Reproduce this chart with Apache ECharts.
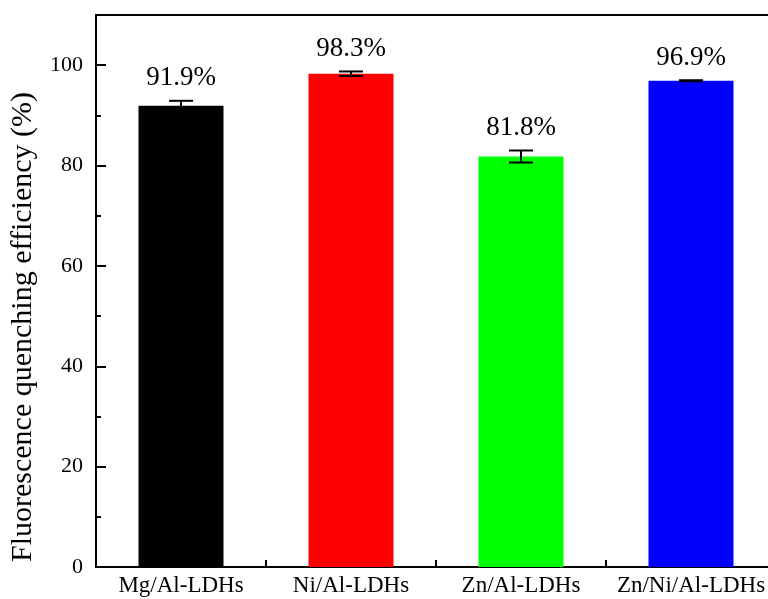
<!DOCTYPE html>
<html>
<head>
<meta charset="utf-8">
<script src="https://cdn.jsdelivr.net/npm/echarts@6/dist/echarts.min.js"></script>
<style>
html,body{margin:0;padding:0;background:#fff;}
#chart{width:768px;height:599px;}
</style>
</head>
<body>
<div id="chart"></div>
<script>
const categories = ['Mg/Al-LDHs', 'Ni/Al-LDHs', 'Zn/Al-LDHs', 'Zn/Ni/Al-LDHs'];
const efficiency = [91.9, 98.3, 81.8, 96.9];
const errors = [1.0, 0.45, 1.2, 0.1];
const barColors = ['#000000', '#ff0000', '#00ff00', '#0000ff'];
const valueLabels = ['91.9%', '98.3%', '81.8%', '96.9%'];
const yTitle = 'Fluorescence quenching efficiency (%)';

const FONT = "'Liberation Serif', 'Times New Roman', serif";
const chart = echarts.init(document.getElementById('chart'), null, {renderer: 'canvas'});

const option = {
  backgroundColor: '#ffffff',
  animation: false,
  grid: {
    left: 96, top: 15, width: 680, height: 552,
    containLabel: false, outerBoundsMode: 'none',
    show: true, borderColor: '#000', borderWidth: 2, backgroundColor: 'transparent'
  },
  xAxis: [
    {
      type: 'category', data: categories, position: 'bottom',
      axisLine: {show: true, lineStyle: {color: '#000', width: 2}},
      axisTick: {show: true, inside: true, alignWithLabel: true, length: 12, lineStyle: {color: '#000', width: 2}},
      axisLabel: {color: '#000', fontFamily: FONT, fontSize: 23, margin: 7, interval: 0},
      splitLine: {show: false}
    },
    {
      type: 'category', data: categories, position: 'bottom',
      axisLine: {show: false},
      axisTick: {show: true, inside: true, alignWithLabel: false, interval: 0, length: 7, lineStyle: {color: '#000', width: 2}},
      axisLabel: {show: false},
      splitLine: {show: false}
    }
  ],
  yAxis: [
    {
      type: 'value', min: 0, max: 110, interval: 20, position: 'left',
      axisLine: {show: true, lineStyle: {color: '#000', width: 2}},
      axisTick: {show: true, inside: true, length: 10, lineStyle: {color: '#000', width: 2}},
      axisLabel: {color: '#000', fontFamily: FONT, fontSize: 22, margin: 13,
        formatter: function (v) { return v > 100 ? '' : String(v); }},
      splitLine: {show: false}
    },
    {
      type: 'value', min: 0, max: 110, interval: 10, position: 'left',
      axisLine: {show: false},
      axisTick: {show: true, inside: true, length: 5, lineStyle: {color: '#000', width: 2}},
      axisLabel: {show: false},
      splitLine: {show: false}
    }
  ],
  graphic: [{
    type: 'text', x: 23, y: 327, rotation: Math.PI / 2,
    style: {text: yTitle, font: "30px " + FONT, fill: '#000', textAlign: 'center', textVerticalAlign: 'middle'}
  }],
  series: [
    {
      type: 'bar', xAxisIndex: 0, yAxisIndex: 0, barWidth: '50%',
      data: efficiency.map(function (v, i) { return {value: v, itemStyle: {color: barColors[i]}}; })
    },
    {
      type: 'custom', xAxisIndex: 0, yAxisIndex: 0, z: 10,
      data: efficiency.map(function (v, i) { return [i, v, errors[i]]; }),
      renderItem: function (params, api) {
        const i = api.value(0), v = api.value(1), e = api.value(2);
        const top = api.coord([i, v + e]);
        const bot = api.coord([i, v - e]);
        const hw = 12;
        const ls = {stroke: '#000', lineWidth: 2};
        return {
          type: 'group',
          children: [
            {type: 'line', shape: {x1: top[0], y1: top[1], x2: bot[0], y2: bot[1]}, style: ls},
            {type: 'line', shape: {x1: top[0] - hw, y1: top[1], x2: top[0] + hw, y2: top[1]}, style: ls},
            {type: 'line', shape: {x1: bot[0] - hw, y1: bot[1], x2: bot[0] + hw, y2: bot[1]}, style: ls},
            {type: 'text', x: top[0], y: top[1] - 9,
              style: {text: valueLabels[i], font: "27px " + FONT, fill: '#000', textAlign: 'center', textVerticalAlign: 'bottom'}}
          ]
        };
      }
    }
  ]
};
chart.setOption(option);
</script>
</body>
</html>
